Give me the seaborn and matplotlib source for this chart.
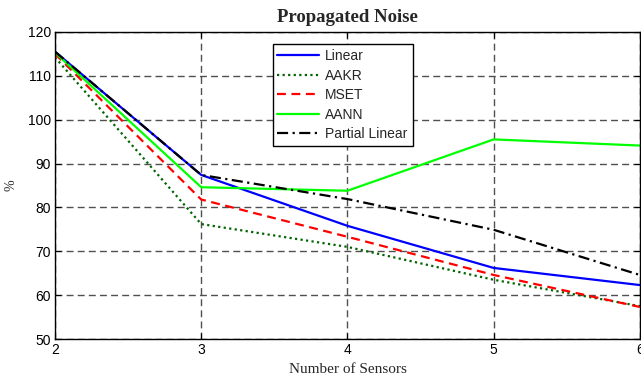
import matplotlib
matplotlib.use("Agg")
import matplotlib.pyplot as plt
import seaborn as sns
import pandas as pd

sensors = [2, 3, 4, 5, 6]
linear = [115.5, 87.4, 75.8, 66.2, 62.3]
aakr = [114.2, 76.2, 71.0, 63.5, 57.5]
mset = [115.0, 81.8, 73.3, 64.6, 57.3]
aann = [115.3, 84.6, 83.8, 95.5, 94.1]
partial_linear = [115.5, 87.4, 81.9, 74.9, 64.6]

methods = ["Linear", "AAKR", "MSET", "AANN", "Partial Linear"]
series = [linear, aakr, mset, aann, partial_linear]

df = pd.DataFrame(
    [(m, x, v) for m, vals in zip(methods, series) for x, v in zip(sensors, vals)],
    columns=["method", "sensors", "value"],
)

sns.set_theme(style="white")
plt.rcParams["font.family"] = ["Liberation Sans", "DejaVu Sans"]

fig = plt.figure(figsize=(6.41, 3.81), dpi=100)
ax = fig.add_axes([0.0858, 0.1102, 0.9125, 0.806])

palette = {"Linear": "#0000ff", "AAKR": "#006400", "MSET": "#ff0000",
           "AANN": "#00ff00", "Partial Linear": "#000000"}
dashes = {"Linear": "", "AAKR": (1, 1.5), "MSET": (4, 2.5),
          "AANN": "", "Partial Linear": (5, 2, 1, 2)}

sns.lineplot(data=df, x="sensors", y="value", hue="method", style="method",
             hue_order=methods, style_order=methods,
             palette=palette, dashes=dashes, linewidth=1.6, ax=ax)

ax.set_xlim(2, 6)
ax.set_ylim(50, 120)
ax.set_xticks(sensors)
ax.set_yticks(range(50, 121, 10))
ax.grid(True, color="#505050", linestyle=(0, (5, 3)), linewidth=1.0)
for s in ax.spines.values():
    s.set_color("black")
    s.set_linewidth(1.0)
ax.tick_params(axis="both", direction="in", length=4, width=0.8, color="black",
               labelsize=10, top=True, right=True, bottom=True, left=True,
               pad=3, labelcolor="black")

ax.set_title("Propagated Noise", fontsize=13.5, fontweight="bold",
             family=["Liberation Serif"], pad=7)
ax.set_xlabel("Number of Sensors", fontsize=11, family=["Liberation Serif"], labelpad=4)
ax.set_ylabel("%", fontsize=10, family=["Liberation Serif"], labelpad=7)

leg = ax.legend(loc="upper left", bbox_to_anchor=(0.372, 0.96), fontsize=10,
                frameon=True, fancybox=False, edgecolor="black", framealpha=1,
                borderpad=0.35, labelspacing=0.4, handlelength=3.0,
                handletextpad=0.45, borderaxespad=0)
leg.get_frame().set_linewidth(1.0)

fig.savefig("out.png", dpi=100)
